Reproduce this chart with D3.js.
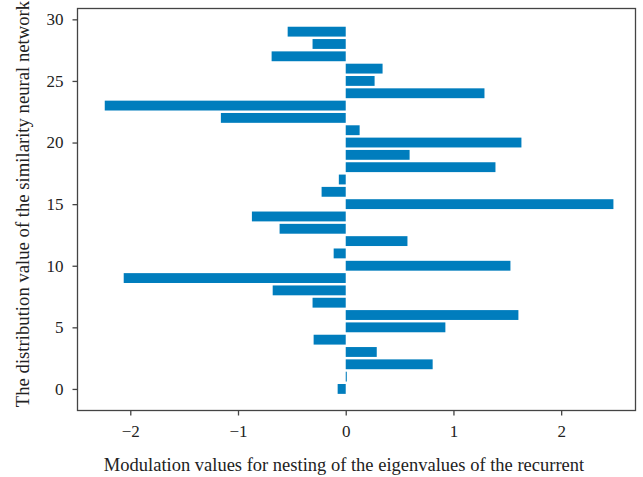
<!DOCTYPE html>
<html>
<head>
<meta charset="utf-8">
<script src="https://cdnjs.cloudflare.com/ajax/libs/d3/7.8.5/d3.min.js"></script>
<style>
  body { margin: 0; background: #fff; }
  svg text { font-family: "Liberation Serif", "DejaVu Serif", serif; fill: #222; }
</style>
</head>
<body>
<svg width="643" height="477"></svg>
<script>
// bar index (y) and value (x)
const positions = d3.range(0, 30)
const values = [
    -0.075, 0.01, 0.807, 0.288, -0.298, 0.925, 1.603, -0.308, -0.678, -2.061,
    1.529, -0.112, 0.573, -0.614, -0.871, 2.485, -0.224, -0.064, 1.390, 0.593,
    1.631, 0.129, -1.159, -2.237, 1.288, 0.268, 0.342, -0.688, -0.308, -0.539
]
const xTicks = [-2, -1, 0, 1, 2]
const yTicks = [0, 5, 10, 15, 20, 25, 30]

const xTitle = "Modulation values for nesting of the eigenvalues of the recurrent"
const yTitle = "The distribution value of the similarity neural network"

const svg = d3.select("svg")
const mLeft = 77.5, mRight = 635.5, mTop = 8.5, mBottom = 410.5

const x = d3.scaleLinear().domain([-2.49, 2.69]).range([mLeft, mRight])
const y = d3.scaleLinear().domain([-1.75, 30.88]).range([mBottom, mTop])
const barH = y(0) - y(0.8)

svg.append("g")
    .selectAll("rect")
    .data(positions)
    .enter().append("rect")
    .attr("x", i => x(Math.min(0, values[i])))
    .attr("width", i => Math.abs(x(values[i]) - x(0)))
    .attr("y", i => y(i + 0.4))
    .attr("height", barH)
    .attr("fill", "#007dbd")

// frame
svg.append("rect")
    .attr("x", mLeft).attr("y", mTop)
    .attr("width", mRight - mLeft).attr("height", mBottom - mTop)
    .attr("fill", "none")
    .attr("stroke", "#444")
    .attr("stroke-width", 1.3)

const fmt = d => d3.format("d")(d)

const xAxis = svg.append("g")
    .attr("transform", "translate(0," + mBottom + ")")
    .call(d3.axisBottom(x).tickValues(xTicks).tickSize(5).tickPadding(9).tickFormat(fmt))
xAxis.select(".domain").remove()
xAxis.selectAll("line").attr("stroke", "#444").attr("stroke-width", 1.3)
xAxis.selectAll("text").style("font-size", "17px").attr("fill", "#222")

const yAxis = svg.append("g")
    .attr("transform", "translate(" + mLeft + ",0)")
    .call(d3.axisLeft(y).tickValues(yTicks).tickSize(5).tickPadding(9).tickFormat(fmt))
yAxis.select(".domain").remove()
yAxis.selectAll("line").attr("stroke", "#444").attr("stroke-width", 1.3)
yAxis.selectAll("text").style("font-size", "17px").attr("fill", "#222")

svg.append("text")
    .attr("x", 344)
    .attr("y", 471)
    .attr("text-anchor", "middle")
    .style("font-size", "18.5px")
    .text(xTitle)

svg.append("text")
    .attr("transform", "translate(29,204) rotate(-90)")
    .attr("text-anchor", "middle")
    .style("font-size", "18.7px")
    .text(yTitle)
</script>
</body>
</html>
